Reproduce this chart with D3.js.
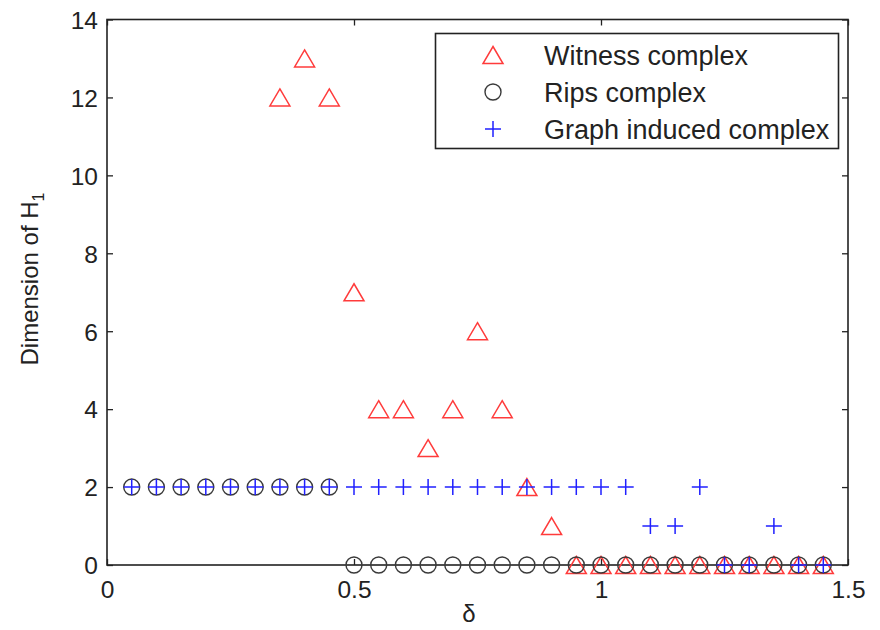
<!DOCTYPE html>
<html><head><meta charset="utf-8">
<script src="https://cdn.jsdelivr.net/npm/d3@7"></script>
<style>body{margin:0;background:#fff;} text{font-family:"Liberation Sans",Arial,sans-serif;}</style>
</head><body>
<svg id="chart" width="880" height="630"></svg>
<script>
const deltas = [0.05,0.10,0.15,0.20,0.25,0.30,0.35,0.40,0.45,0.50,0.55,0.60,0.65,0.70,0.75,0.80,0.85,0.90,0.95,1.00,1.05,1.10,1.15,1.20,1.25,1.30,1.35,1.40,1.45];
const witness = [null,null,null,null,null,null,12,13,12,7,4,4,3,4,6,4,2,1,0,0,0,0,0,0,0,0,0,0,0];
const rips = [2,2,2,2,2,2,2,2,2,0,0,0,0,0,0,0,0,0,0,0,0,0,0,0,0,0,0,0,0];
const gic = [2,2,2,2,2,2,2,2,2,2,2,2,2,2,2,2,2,2,2,2,2,1,1,2,0,0,1,0,0];
const xTicks = [0,0.5,1,1.5];
const xTickLabels = ["0","0.5","1","1.5"];
const yTicks = [0,2,4,6,8,10,12,14];
const seriesNames = ["Witness complex","Rips complex","Graph induced complex"];

const svg = d3.select("#chart");
const L = 107, R = 848, T = 19.5, B = 565;
const x = d3.scaleLinear().domain([0,1.5]).range([L,R]);
const y = d3.scaleLinear().domain([0,14]).range([B,T]);
const tk = 6;

// frame
const frameColor = "#222";
svg.append("rect").attr("x",L).attr("y",T).attr("width",R-L).attr("height",B-T)
  .attr("fill","none").attr("stroke",frameColor).attr("stroke-width",1.6);

// axes using d3 axis generators (inward ticks)
const fs = 24.5;
function styleAxis(g){ g.select(".domain").remove(); g.selectAll("line").attr("stroke",frameColor).attr("stroke-width",1.3);
  g.selectAll("text").attr("font-size",fs).attr("fill","#222").attr("font-family","Liberation Sans, Arial, sans-serif"); }
const xb = svg.append("g").attr("transform",`translate(0,${B})`)
  .call(d3.axisBottom(x).tickValues(xTicks).tickFormat((d,i)=>xTickLabels[i]).tickSizeInner(-tk).tickSizeOuter(0).tickPadding(12));
styleAxis(xb); xb.selectAll("text").attr("dy","0.71em").attr("y",16);
const xt = svg.append("g").attr("transform",`translate(0,${T})`)
  .call(d3.axisTop(x).tickValues(xTicks).tickFormat("").tickSizeInner(-tk).tickSizeOuter(0));
styleAxis(xt);
const yl = svg.append("g").attr("transform",`translate(${L},0)`)
  .call(d3.axisLeft(y).tickValues(yTicks).tickFormat(d3.format("d")).tickSizeInner(-tk).tickSizeOuter(0));
styleAxis(yl); yl.selectAll("text").attr("x",-9).attr("dy","0.36em");
const yr = svg.append("g").attr("transform",`translate(${R},0)`)
  .call(d3.axisRight(y).tickValues(yTicks).tickFormat("").tickSizeInner(-tk).tickSizeOuter(0));
styleAxis(yr);

// axis labels
svg.append("text").attr("x",469).attr("y",622).attr("text-anchor","middle")
  .attr("font-size",24).attr("fill","#222").text("δ");
const ylab = svg.append("text").attr("transform",`translate(38,279) rotate(-90)`).attr("text-anchor","middle")
  .attr("font-size",24).attr("fill","#222");
ylab.append("tspan").text("Dimension of H");
ylab.append("tspan").attr("font-size",16).attr("dy",6).text("1");

// marker drawers
const red = "#ff3b3b", blue = "#2020ff", black = "#3a3a3a";
function triangle(g,cx,cy){ const w=10, h=8.5;
  g.append("path").attr("d",`M${cx},${cy-h}L${cx+w},${cy+h}L${cx-w},${cy+h}Z`).attr("fill","none").attr("stroke",red).attr("stroke-width",1.5); }
function circle(g,cx,cy){ g.append("circle").attr("cx",cx).attr("cy",cy).attr("r",8).attr("fill","none").attr("stroke",black).attr("stroke-width",1.4); }
function plus(g,cx,cy){ const s=8;
  g.append("path").attr("d",`M${cx-s},${cy}H${cx+s}M${cx},${cy-s}V${cy+s}`).attr("stroke",blue).attr("stroke-width",1.5).attr("fill","none"); }

const gm = svg.append("g");
deltas.forEach((d,i)=>{ if(witness[i]!==null) triangle(gm,x(d),y(witness[i])); });
deltas.forEach((d,i)=>{ if(rips[i]!==null) circle(gm,x(d),y(rips[i])); });
deltas.forEach((d,i)=>{ if(gic[i]!==null) plus(gm,x(d),y(gic[i])); });

// legend
const lg = svg.append("g");
lg.append("rect").attr("x",435.5).attr("y",33.5).attr("width",403).attr("height",115)
  .attr("fill","#fff").attr("stroke",frameColor).attr("stroke-width",1.6);
const rowsY = [55,92,129];
const drawers = [triangle,circle,plus];
seriesNames.forEach((n,i)=>{
  drawers[i](lg,493,rowsY[i]);
  lg.append("text").attr("x",544).attr("y",rowsY[i]).attr("dy","0.36em").attr("font-size",27).attr("fill","#222").text(n);
});
</script>
</body></html>
